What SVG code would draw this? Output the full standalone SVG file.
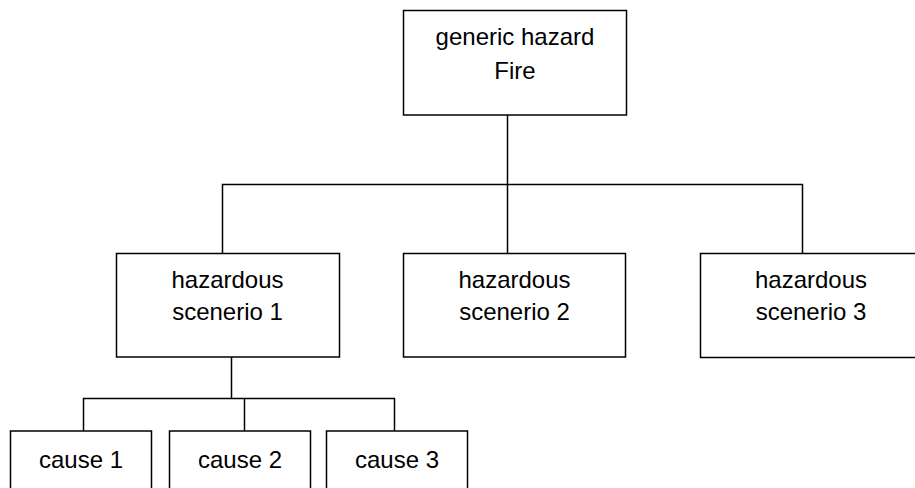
<svg xmlns="http://www.w3.org/2000/svg" width="915" height="488" viewBox="0 0 915 488">
  <style>
    .box { fill: #fff; stroke: #000; stroke-width: 1.5; }
    .wire { fill: none; stroke: #000; stroke-width: 1.5; }
    text { font-family: "Liberation Sans", Arial, sans-serif; font-size: 24px; fill: #000; text-anchor: middle; }
  </style>
  <rect width="915" height="488" fill="#fff"/>

  <g id="connectors">
    <path class="wire" d="M507.5 115 V184.5 M222.5 253 V184.5 H802.5 V253 M507.5 184.5 V253"/>
    <path class="wire" d="M231.5 357 V398.5 M83.5 431 V398.5 H394.5 V431 M244.5 398.5 V431"/>
  </g>

  <g id="generic-hazard">
    <rect class="box" x="403.5" y="10.5" width="223" height="104.5"/>
    <text x="515" y="45">generic hazard</text>
    <text x="515" y="79">Fire</text>
  </g>

  <g id="scenario-1">
    <rect class="box" x="116.5" y="253.5" width="223" height="103.5"/>
    <text x="227.5" y="288">hazardous</text>
    <text x="227.5" y="320">scenerio 1</text>
  </g>

  <g id="scenario-2">
    <rect class="box" x="403.5" y="253.5" width="222" height="103.5"/>
    <text x="514.5" y="288">hazardous</text>
    <text x="514.5" y="320">scenerio 2</text>
  </g>

  <g id="scenario-3">
    <rect class="box" x="700.5" y="253.5" width="230" height="104"/>
    <text x="811" y="288">hazardous</text>
    <text x="811" y="320">scenerio 3</text>
  </g>

  <g id="cause-1">
    <rect class="box" x="10.5" y="431" width="141" height="70"/>
    <text x="81" y="468">cause 1</text>
  </g>

  <g id="cause-2">
    <rect class="box" x="169.5" y="431" width="141" height="70"/>
    <text x="240" y="468">cause 2</text>
  </g>

  <g id="cause-3">
    <rect class="box" x="326.5" y="431" width="141" height="70"/>
    <text x="397" y="468">cause 3</text>
  </g>
</svg>
